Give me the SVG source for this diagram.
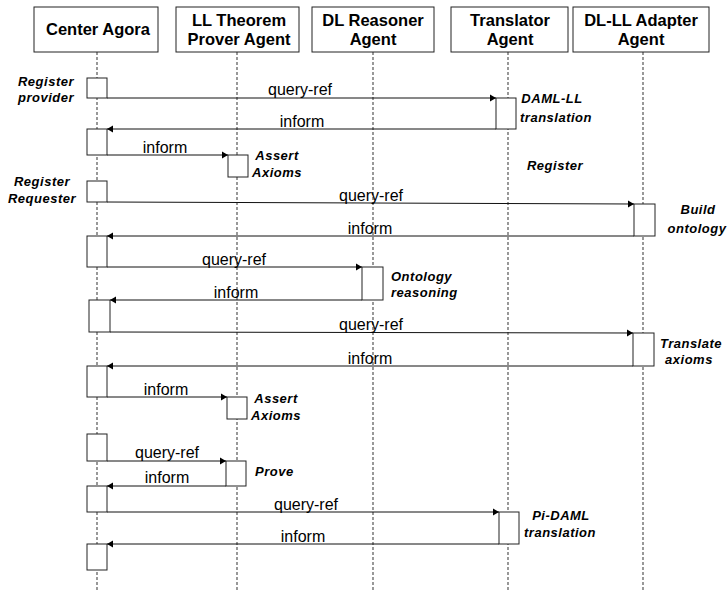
<svg xmlns="http://www.w3.org/2000/svg" width="728" height="592" viewBox="0 0 728 592">
  <style>
    .hdr { fill: #fff; stroke: #222; stroke-width: 1; }
    .hdrtxt { font-family: "Liberation Sans", Arial, sans-serif; font-weight: bold; font-size: 16.5px; fill: #000; text-anchor: middle; }
    .life { stroke: #555; stroke-width: 1.2; stroke-dasharray: 3 2; fill: none; }
    .act { fill: #fff; stroke: #222; stroke-width: 1; }
    .msg { stroke: #111; stroke-width: 1; fill: none; marker-end: url(#arrow); }
    .msgtxt { font-family: "Liberation Sans", Arial, sans-serif; font-size: 16px; fill: #000; text-anchor: middle; }
    .note { font-family: "Liberation Sans", Arial, sans-serif; font-weight: bold; font-style: italic; font-size: 13px; letter-spacing: 0.5px; fill: #000; text-anchor: middle; }
    .noteL { text-anchor: start; }
  </style>
  <defs>
    <marker id="arrow" markerUnits="userSpaceOnUse" markerWidth="6" markerHeight="8" refX="6" refY="4" orient="auto">
      <path d="M0,0.5 L6,4 L0,7.5 Z" fill="#000"/>
    </marker>
  </defs>

  <rect width="728" height="592" fill="#fff"/>

  <!-- lifelines -->
  <g id="lifelines">
    <line class="life" x1="97" y1="52" x2="97" y2="592"/>
    <line class="life" x1="237" y1="52" x2="237" y2="592"/>
    <line class="life" x1="373" y1="52" x2="373" y2="592"/>
    <line class="life" x1="508" y1="52" x2="508" y2="592"/>
    <line class="life" x1="643" y1="52" x2="643" y2="592"/>
  </g>

  <!-- participant headers -->
  <g id="center-agora">
    <rect class="hdr" x="34" y="7" width="124" height="45"/>
    <text class="hdrtxt" x="98" y="35">Center Agora</text>
  </g>
  <g id="ll-theorem-prover">
    <rect class="hdr" x="176" y="7" width="123" height="45"/>
    <text class="hdrtxt" x="239" y="26">LL Theorem</text>
    <text class="hdrtxt" x="239" y="45">Prover Agent</text>
  </g>
  <g id="dl-reasoner">
    <rect class="hdr" x="312" y="7" width="122" height="45"/>
    <text class="hdrtxt" x="373" y="26">DL Reasoner</text>
    <text class="hdrtxt" x="373" y="45">Agent</text>
  </g>
  <g id="translator">
    <rect class="hdr" x="451" y="7" width="117" height="45"/>
    <text class="hdrtxt" x="510" y="26">Translator</text>
    <text class="hdrtxt" x="510" y="45">Agent</text>
  </g>
  <g id="dl-ll-adapter">
    <rect class="hdr" x="573" y="7" width="136" height="45"/>
    <text class="hdrtxt" x="641" y="26">DL-LL Adapter</text>
    <text class="hdrtxt" x="641" y="45">Agent</text>
  </g>

  <!-- activation bars -->
  <g id="activations">
    <rect class="act" x="87" y="78" width="20" height="20"/>
    <rect class="act" x="87" y="129" width="20" height="26"/>
    <rect class="act" x="87" y="181" width="20" height="21"/>
    <rect class="act" x="87" y="236" width="20" height="31"/>
    <rect class="act" x="89" y="300" width="21" height="32"/>
    <rect class="act" x="87" y="366" width="20" height="31"/>
    <rect class="act" x="87" y="434" width="20" height="27"/>
    <rect class="act" x="87" y="486" width="20" height="26"/>
    <rect class="act" x="87" y="544" width="20" height="26"/>

    <rect class="act" x="496" y="98" width="20" height="31"/>
    <rect class="act" x="228" y="155" width="20" height="22"/>
    <rect class="act" x="634" y="204" width="21" height="32"/>
    <rect class="act" x="362" y="267" width="21" height="33"/>
    <rect class="act" x="633" y="333" width="21" height="33"/>
    <rect class="act" x="227" y="397" width="20" height="22"/>
    <rect class="act" x="226" y="461" width="20" height="25"/>
    <rect class="act" x="499" y="512" width="20" height="32"/>
  </g>

  <!-- messages -->
  <g id="connectors">
    <line class="msg" x1="107" y1="98" x2="496" y2="98"/>
    <line class="msg" x1="496" y1="129" x2="107" y2="129"/>
    <line class="msg" x1="107" y1="155" x2="228" y2="155"/>
    <line class="msg" x1="107" y1="202" x2="634" y2="204"/>
    <line class="msg" x1="634" y1="236" x2="107" y2="236"/>
    <line class="msg" x1="107" y1="267" x2="362" y2="267"/>
    <line class="msg" x1="362" y1="300" x2="110" y2="300"/>
    <line class="msg" x1="110" y1="332" x2="633" y2="333"/>
    <line class="msg" x1="633" y1="366" x2="107" y2="366"/>
    <line class="msg" x1="107" y1="397" x2="227" y2="397"/>
    <line class="msg" x1="107" y1="461" x2="226" y2="461"/>
    <line class="msg" x1="226" y1="486" x2="107" y2="486"/>
    <line class="msg" x1="107" y1="512" x2="499" y2="512"/>
    <line class="msg" x1="499" y1="544" x2="107" y2="544"/>
  </g>

  <!-- message labels -->
  <g id="message-labels">
    <text class="msgtxt" x="300" y="95">query-ref</text>
    <text class="msgtxt" x="302" y="127">inform</text>
    <text class="msgtxt" x="165" y="153">inform</text>
    <text class="msgtxt" x="371" y="201">query-ref</text>
    <text class="msgtxt" x="370" y="234">inform</text>
    <text class="msgtxt" x="234" y="265">query-ref</text>
    <text class="msgtxt" x="236" y="298">inform</text>
    <text class="msgtxt" x="371" y="330">query-ref</text>
    <text class="msgtxt" x="370" y="364">inform</text>
    <text class="msgtxt" x="166" y="395">inform</text>
    <text class="msgtxt" x="167" y="458">query-ref</text>
    <text class="msgtxt" x="167" y="483">inform</text>
    <text class="msgtxt" x="306" y="510">query-ref</text>
    <text class="msgtxt" x="303" y="542">inform</text>
  </g>

  <!-- activity notes -->
  <g id="notes">
    <text class="note" x="46" y="86">Register</text>
    <text class="note" x="46" y="102">provider</text>
    <text class="note" x="552" y="103">DAML-LL</text>
    <text class="note" x="556" y="122">translation</text>
    <text class="note" x="277" y="160">Assert</text>
    <text class="note" x="277" y="177">Axioms</text>
    <text class="note" x="555" y="170">Register</text>
    <text class="note" x="42" y="186">Register</text>
    <text class="note" x="42" y="203">Requester</text>
    <text class="note" x="698" y="214">Build</text>
    <text class="note" x="697" y="233">ontology</text>
    <text class="note noteL" x="391" y="281">Ontology</text>
    <text class="note noteL" x="391" y="297">reasoning</text>
    <text class="note" x="691" y="348">Translate</text>
    <text class="note" x="689" y="364">axioms</text>
    <text class="note" x="276" y="403">Assert</text>
    <text class="note" x="276" y="420">Axioms</text>
    <text class="note noteL" x="255" y="476">Prove</text>
    <text class="note" x="561" y="520">Pi-DAML</text>
    <text class="note" x="560" y="537">translation</text>
  </g>
</svg>
